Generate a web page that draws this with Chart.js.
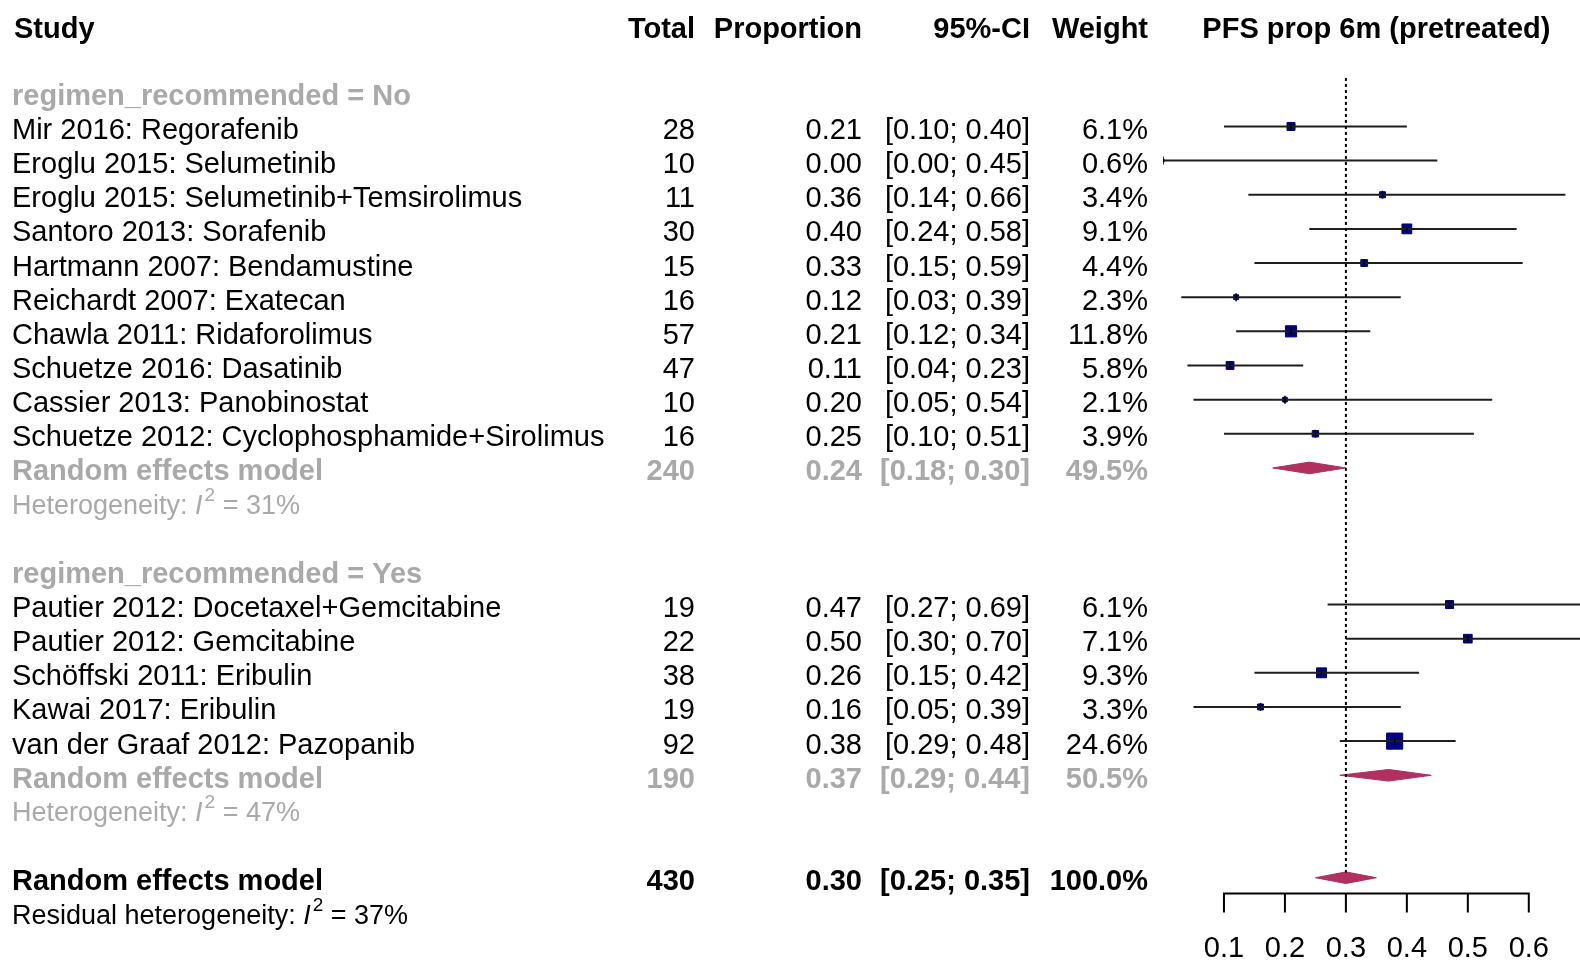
<!DOCTYPE html>
<html>
<head>
<meta charset="utf-8">
<title>PFS prop 6m (pretreated)</title>
<script src="https://cdn.jsdelivr.net/npm/chart.js@4.4.1/dist/chart.umd.min.js"></script>
<style>
  html, body { margin: 0; padding: 0; background: #fff; }
  #forest { display: block; }
</style>
</head>
<body>
<canvas id="forest" width="1580" height="960"></canvas>
<script>
// study level data
const studies = [
  'Mir 2016: Regorafenib',
  'Eroglu 2015: Selumetinib',
  'Eroglu 2015: Selumetinib+Temsirolimus',
  'Santoro 2013: Sorafenib',
  'Hartmann 2007: Bendamustine',
  'Reichardt 2007: Exatecan',
  'Chawla 2011: Ridaforolimus',
  'Schuetze 2016: Dasatinib',
  'Cassier 2013: Panobinostat',
  'Schuetze 2012: Cyclophosphamide+Sirolimus',
  'Pautier 2012: Docetaxel+Gemcitabine',
  'Pautier 2012: Gemcitabine',
  'Schöffski 2011: Eribulin',
  'Kawai 2017: Eribulin',
  'van der Graaf 2012: Pazopanib'
];
const studyGroup = ['No', 'No', 'No', 'No', 'No', 'No', 'No', 'No', 'No', 'No', 'Yes', 'Yes', 'Yes', 'Yes', 'Yes'];
const totals = [28, 10, 11, 30, 15, 16, 57, 47, 10, 16, 19, 22, 38, 19, 92];
const proportions = [0.21, 0.00, 0.36, 0.40, 0.33, 0.12, 0.21, 0.11, 0.20, 0.25, 0.47, 0.50, 0.26, 0.16, 0.38];
const lower = [0.10, 0.00, 0.14, 0.24, 0.15, 0.03, 0.12, 0.04, 0.05, 0.10, 0.27, 0.30, 0.15, 0.05, 0.29];
const upper = [0.40, 0.45, 0.66, 0.58, 0.59, 0.39, 0.34, 0.23, 0.54, 0.51, 0.69, 0.70, 0.42, 0.39, 0.48];
const weights = [6.1, 0.6, 3.4, 9.1, 4.4, 2.3, 11.8, 5.8, 2.1, 3.9, 6.1, 7.1, 9.3, 3.3, 24.6];

// subgroup summaries
const groups = ['No', 'Yes'];
const groupTotals = [240, 190];
const groupEst = [0.24, 0.37];
const groupLower = [0.18, 0.29];
const groupUpper = [0.30, 0.44];
const groupWeights = [49.5, 50.5];
const groupI2 = [31, 47];

// overall summary
const overallTotal = 430;
const overallEst = 0.30;
const overallLower = 0.25;
const overallUpper = 0.35;
const residualI2 = 37;

const xTicks = [0.1, 0.2, 0.3, 0.4, 0.5, 0.6];

const FONT = '"Liberation Sans", Arial, Helvetica, sans-serif';
const GRAY = '#a9a9a9';
const NAVY = '#000080';
const MAROON = '#b03060';

// work out which row each line goes on
const rows = { header: -0.95, studies: [], groupLabel: [], groupModel: [], groupHet: [] };
let r = 1;
groups.forEach((g) => {
  rows.groupLabel.push(r++);
  studies.forEach((s, i) => {
    if (studyGroup[i] === g) rows.studies[i] = r++;
  });
  rows.groupModel.push(r++);
  rows.groupHet.push(r++);
  r++;
});
rows.overall = r;
rows.residual = r + 1;
rows.axis = r + 0.46;

function fmt(v) {
  return v.toFixed(2);
}

function ciText(lo, hi) {
  return '[' + fmt(lo) + '; ' + fmt(hi) + ']';
}

function diamond(est, lo, hi, row) {
  const h = 0.17;
  return [
    { x: lo, y: row },
    { x: est, y: row - h },
    { x: hi, y: row },
    { x: est, y: row + h },
    { x: lo, y: row }
  ];
}

const datasets = [];

// squares
datasets.push({
  data: proportions.map((p, i) => ({ x: p, y: rows.studies[i] })),
  showLine: false,
  pointStyle: 'rect',
  pointRadius: (ctx) => 2.3 * Math.sqrt(weights[ctx.dataIndex]),
  backgroundColor: NAVY,
  borderColor: NAVY,
  borderWidth: 1,
  order: 3
});

// confidence intervals
studies.forEach((s, i) => {
  datasets.push({
    data: [{ x: lower[i], y: rows.studies[i] }, { x: upper[i], y: rows.studies[i] }],
    borderColor: '#1e1e1e',
    borderWidth: 2,
    pointRadius: 0,
    order: 2
  });
});

// small vertical tick at each estimate
datasets.push({
  data: proportions.map((p, i) => ({ x: p, y: rows.studies[i] })),
  showLine: false,
  pointStyle: 'line',
  rotation: 90,
  pointRadius: 4,
  borderColor: '#000',
  borderWidth: 1.5,
  order: 1
});

// subgroup and overall diamonds
groups.forEach((g, k) => {
  datasets.push({
    data: diamond(groupEst[k], groupLower[k], groupUpper[k], rows.groupModel[k]),
    borderColor: MAROON,
    backgroundColor: MAROON,
    borderWidth: 1,
    pointRadius: 0,
    fill: 'shape',
    order: 2
  });
});
datasets.push({
  data: diamond(overallEst, overallLower, overallUpper, rows.overall),
  borderColor: MAROON,
  backgroundColor: MAROON,
  borderWidth: 1,
  pointRadius: 0,
  fill: 'shape',
  order: 2
});

// dotted line at the overall estimate
datasets.push({
  data: [{ x: overallEst, y: 0.58 }, { x: overallEst, y: rows.overall - 0.15 }],
  borderColor: '#000',
  borderWidth: 2,
  borderDash: [3, 3],
  pointRadius: 0,
  order: 0
});

function drawHet(ctx, x, y, prefix, value, color) {
  ctx.fillStyle = color;
  ctx.textAlign = 'left';
  ctx.font = '27px ' + FONT;
  ctx.fillText(prefix, x, y);
  x += ctx.measureText(prefix).width;
  ctx.font = 'italic 27px ' + FONT;
  ctx.fillText('I', x, y);
  x += ctx.measureText('I').width + 2;
  ctx.font = '19px ' + FONT;
  ctx.fillText('2', x, y - 11);
  x += ctx.measureText('2').width;
  ctx.font = '27px ' + FONT;
  ctx.fillText(' = ' + value + '%', x, y);
}

const forestText = {
  id: 'forestText',
  afterDraw(chart) {
    const { ctx, scales: { x, y } } = chart;
    const col = { study: 12, total: 695, prop: 862, ci: 1030, weight: 1148 };
    const py = (row) => y.getPixelForValue(row) + 4.5;

    ctx.save();
    ctx.textBaseline = 'middle';

    function put(text, cx, row, align, bold, color) {
      ctx.font = (bold ? 'bold ' : '') + '29px ' + FONT;
      ctx.textAlign = align;
      ctx.fillStyle = color;
      ctx.fillText(text, cx, py(row));
    }

    // header
    put('Study', 14, rows.header, 'left', true, '#000');
    put('Total', col.total, rows.header, 'right', true, '#000');
    put('Proportion', col.prop, rows.header, 'right', true, '#000');
    put('95%-CI', col.ci, rows.header, 'right', true, '#000');
    put('Weight', col.weight, rows.header, 'right', true, '#000');
    put('PFS prop 6m (pretreated)', x.getPixelForValue(0.35), rows.header, 'center', true, '#000');

    // studies
    studies.forEach((s, i) => {
      const row = rows.studies[i];
      put(s, col.study, row, 'left', false, '#000');
      put(String(totals[i]), col.total, row, 'right', false, '#000');
      put(fmt(proportions[i]), col.prop, row, 'right', false, '#000');
      put(ciText(lower[i], upper[i]), col.ci, row, 'right', false, '#000');
      put(weights[i].toFixed(1) + '%', col.weight, row, 'right', false, '#000');
    });

    // subgroups
    groups.forEach((g, k) => {
      put('regimen_recommended = ' + g, col.study, rows.groupLabel[k], 'left', true, GRAY);
      const row = rows.groupModel[k];
      put('Random effects model', col.study, row, 'left', true, GRAY);
      put(String(groupTotals[k]), col.total, row, 'right', true, GRAY);
      put(fmt(groupEst[k]), col.prop, row, 'right', true, GRAY);
      put(ciText(groupLower[k], groupUpper[k]), col.ci, row, 'right', true, GRAY);
      put(groupWeights[k].toFixed(1) + '%', col.weight, row, 'right', true, GRAY);
      drawHet(ctx, col.study, py(rows.groupHet[k]), 'Heterogeneity: ', groupI2[k], GRAY);
    });

    // overall
    put('Random effects model', col.study, rows.overall, 'left', true, '#000');
    put(String(overallTotal), col.total, rows.overall, 'right', true, '#000');
    put(fmt(overallEst), col.prop, rows.overall, 'right', true, '#000');
    put(ciText(overallLower, overallUpper), col.ci, rows.overall, 'right', true, '#000');
    put('100.0%', col.weight, rows.overall, 'right', true, '#000');
    drawHet(ctx, col.study, py(rows.residual), 'Residual heterogeneity: ', residualI2, '#000');

    // x axis
    const ay = Math.round(y.getPixelForValue(rows.axis)) + 0.5;
    const x0 = x.getPixelForValue(xTicks[0]);
    const x1 = x.getPixelForValue(xTicks[xTicks.length - 1]);
    ctx.strokeStyle = '#000';
    ctx.lineWidth = 2;
    ctx.beginPath();
    ctx.moveTo(x0, ay);
    ctx.lineTo(x1, ay);
    xTicks.forEach((t) => {
      const tx = x.getPixelForValue(t);
      ctx.moveTo(tx, ay - 1);
      ctx.lineTo(tx, ay + 19);
    });
    ctx.stroke();
    ctx.font = '29px ' + FONT;
    ctx.textAlign = 'center';
    ctx.fillStyle = '#000';
    xTicks.forEach((t) => {
      ctx.fillText(t.toFixed(1), x.getPixelForValue(t), ay + 55);
    });

    ctx.restore();
  }
};

new Chart(document.getElementById('forest'), {
  type: 'line',
  data: { datasets },
  options: {
    responsive: false,
    animation: false,
    events: [],
    layout: { autoPadding: false, padding: { left: 1163, right: 0, top: 24, bottom: 14 } },
    elements: { line: { tension: 0 } },
    scales: {
      x: { type: 'linear', min: 0, max: 0.684, display: false },
      y: { type: 'linear', min: -1, max: 26, reverse: true, display: false }
    },
    plugins: {
      legend: { display: false },
      tooltip: { enabled: false }
    }
  },
  plugins: [forestText]
});
</script>
</body>
</html>
